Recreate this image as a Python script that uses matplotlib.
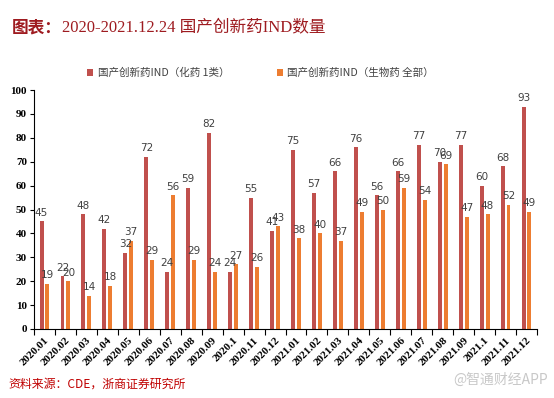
import numpy as np
import matplotlib.pyplot as plt
from matplotlib.patches import Patch

plt.rcParams['font.family'] = ['Noto Sans CJK SC', 'DejaVu Sans']

months = ["2020.01", "2020.02", "2020.03", "2020.04", "2020.05", "2020.06",
          "2020.07", "2020.08", "2020.09", "2020.1", "2020.11", "2020.12",
          "2021.01", "2021.02", "2021.03", "2021.04", "2021.05", "2021.06",
          "2021.07", "2021.08", "2021.09", "2021.1", "2021.11", "2021.12"]
chem_ind = [45, 22, 48, 42, 32, 72, 24, 59, 82, 24, 55, 41,
            75, 57, 66, 76, 56, 66, 77, 70, 77, 60, 68, 93]
bio_ind = [19, 20, 14, 18, 37, 29, 56, 29, 24, 27, 26, 43,
           38, 40, 37, 49, 50, 59, 54, 69, 47, 48, 52, 49]

RED = "#C0504D"
ORANGE = "#ED7D31"
TITLE_RED = "#9E1B20"

fig = plt.figure(figsize=(5.54, 3.98), dpi=100)
ax = fig.add_axes([34 / 554, 1 - 329 / 398, 503 / 554, 239 / 398])

x = np.arange(len(months))
w = 0.19
off = 0.14
ax.bar(x - off, chem_ind, width=w, color=RED)
ax.bar(x + off, bio_ind, width=w, color=ORANGE)

for xi, v in zip(x, chem_ind):
    ax.text(xi - off, v + 1.5, str(v), ha="center", va="bottom", fontsize=7.5,
            color="#404040", family="DejaVu Sans")
for xi, v in zip(x, bio_ind):
    ax.text(xi + off, v + 1.5, str(v), ha="center", va="bottom", fontsize=7.5,
            color="#404040", family="DejaVu Sans")

ax.set_xlim(-0.5, len(months) - 0.5)
ax.set_ylim(0, 100)
ax.set_yticks(range(0, 101, 10))
for lab in ax.get_yticklabels():
    lab.set_family("Liberation Serif")
    lab.set_fontweight("bold")
    lab.set_fontsize(8)
ax.tick_params(axis="y", length=3, width=0.8, pad=2)

ax.set_xticks(x)
ax.set_xticklabels(months, rotation=45, ha="right", va="top",
                   rotation_mode="anchor", fontsize=8,
                   family="Liberation Serif", fontweight="bold")
ax.tick_params(axis="x", which="major", length=0, pad=5)
ax.set_xticks(np.arange(-0.5, len(months), 1), minor=True)
ax.tick_params(axis="x", which="minor", length=4, width=0.8)

for s in ["top", "right"]:
    ax.spines[s].set_visible(False)
ax.spines["left"].set_linewidth(0.8)
ax.spines["bottom"].set_linewidth(0.8)

handles = [Patch(facecolor=RED, label="国产创新药IND（化药 1类）"),
           Patch(facecolor=ORANGE, label="国产创新药IND（生物药 全部）")]
fig.legend(handles=handles, loc="center", bbox_to_anchor=(0.47, 1 - 73 / 398),
           ncol=2, frameon=False, fontsize=7.6, handlelength=0.6, handleheight=0.6,
           columnspacing=4.5, handletextpad=0.4, labelcolor="#404040")

fig.text(12 / 554, 1 - 27 / 398, "图表：", fontsize=12, fontweight="bold",
         color=TITLE_RED, va="center", ha="left")
fig.text(62 / 554, 1 - 27 / 398, "2020-2021.12.24 国产创新药IND数量", fontsize=12,
         color=TITLE_RED, va="center", ha="left",
         family=["Liberation Serif", "Noto Sans CJK SC"])

fig.text(8 / 554, 1 - 384 / 398, "资料来源：CDE，浙商证券研究所", fontsize=8.6,
         color="#C00000", va="center", ha="left")
fig.text(548 / 554, 1 - 380 / 398, "@智通财经APP", fontsize=10,
         color="#C8C8C8", va="center", ha="right")

fig.savefig("out.png", dpi=100)
